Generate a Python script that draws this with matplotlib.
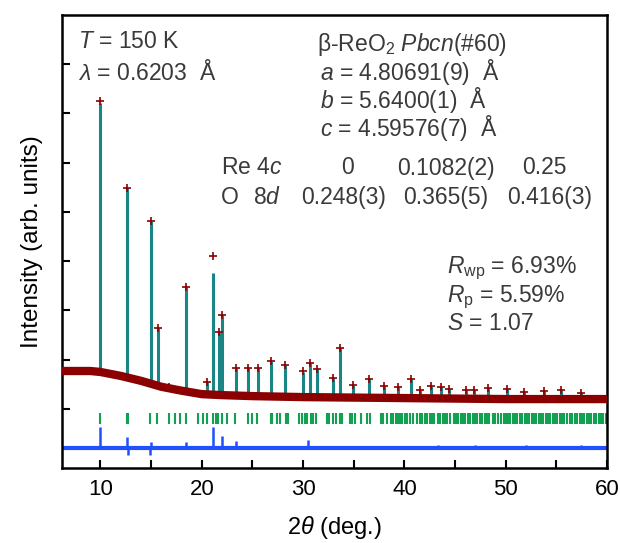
import numpy as np
import matplotlib.pyplot as plt

plt.rcParams['font.family'] = ['Liberation Sans', 'DejaVu Sans']
plt.rcParams['mathtext.fontset'] = 'custom'
plt.rcParams['mathtext.rm'] = 'Liberation Sans'
plt.rcParams['mathtext.it'] = 'Liberation Sans:italic'

# background of the observed pattern (2theta, intensity)
bg_x = [6.2, 9.0, 10.0, 12.0, 14.0, 16.0, 18.0, 20.0, 22.0, 25.0, 30.0, 40.0, 50.0, 60.0]
bg_y = [0.77, 0.77, 0.75, 0.67, 0.57, 0.45, 0.37, 0.30, 0.28, 0.26, 0.24, 0.22, 0.20, 0.20]

# Bragg peaks: position, calculated top, observed top
peak_pos = [9.93, 12.64, 14.97, 15.66, 16.74, 18.49, 20.54, 21.13, 21.67, 22.0,
            23.33, 24.61, 25.5, 26.79, 28.17, 30.02, 30.67, 31.33, 32.98, 33.63,
            34.95, 36.54, 37.97, 39.39, 40.61, 41.5, 42.59, 43.57, 44.36, 46.04,
            46.83, 48.21, 50.09, 51.77, 53.74, 55.42, 57.4]
peak_calc = [6.21, 4.48, 3.81, 1.64, 0.45, 2.47, 0.55, 2.76, 1.57, 1.91,
             0.83, 0.84, 0.84, 0.98, 0.90, 0.74, 0.93, 0.81, 0.63, 1.24,
             0.49, 0.61, 0.47, 0.45, 0.60, 0.39, 0.47, 0.45, 0.41, 0.39,
             0.39, 0.43, 0.41, 0.34, 0.37, 0.39, 0.32]
peak_obs = [6.25, 4.48, 3.81, 1.64, 0.45, 2.47, 0.55, 3.10, 1.57, 1.91,
            0.83, 0.84, 0.84, 0.98, 0.90, 0.76, 0.93, 0.81, 0.63, 1.24,
            0.49, 0.61, 0.47, 0.45, 0.60, 0.39, 0.47, 0.45, 0.41, 0.39,
            0.39, 0.43, 0.41, 0.34, 0.37, 0.39, 0.32]

# difference curve spikes
diff_base = -0.79
diff_pos = [9.93, 12.6, 12.7, 14.9, 15.0, 18.49, 21.13, 22.0, 23.33, 30.5, 43.3, 47.0, 52.0, 57.4]
diff_val = [-0.37, -0.57, -0.93, -0.93, -0.67, -0.67, -0.37, -0.55, -0.65, -0.63, -0.73, -0.74, -0.74, -0.74]

# Bragg reflection tick positions
bragg_pos = [9.93, 12.57, 12.74, 14.87, 15.60, 16.74, 17.31, 17.83, 18.49, 19.61,
             20.14, 20.54, 21.13, 21.36, 21.58, 22.02, 22.51, 23.23, 24.55, 24.98,
             25.47, 26.79, 26.95, 27.38, 27.68, 28.27, 28.47, 29.55, 29.92, 30.14,
             30.41, 30.74, 30.93, 31.23, 32.32, 32.51, 32.98, 33.21, 33.63, 33.87,
             34.62, 34.85, 35.08, 35.74, 36.33, 36.59, 37.65, 37.91, 38.31, 38.64,
             38.90, 39.13, 39.36, 39.6, 39.8, 40.1, 40.3, 40.6, 40.8, 41.2,
             41.5, 41.7, 42.0, 42.2, 42.5, 42.7, 42.9, 43.3, 43.5, 43.8,
             44.0, 44.2, 44.5, 44.9, 45.1, 45.3, 45.6, 45.8, 46.0, 46.3,
             46.5, 46.8, 47.0, 47.2, 47.5, 47.7, 48.0, 48.2, 48.4, 48.7,
             48.9, 49.2, 49.5, 49.8, 50.0, 50.2, 50.4, 50.7, 50.9, 51.1,
             51.4, 51.6, 51.9, 52.1, 52.3, 52.6, 52.8, 53.0, 53.3, 53.5,
             53.7, 54.0, 54.2, 54.4, 54.7, 54.9, 55.1, 55.4, 55.6, 55.8,
             56.1, 56.3, 56.5, 56.8, 57.0, 57.3, 57.5, 57.7, 58.0, 58.2,
             58.4, 58.7, 58.9, 59.2, 59.4, 59.6, 59.9]

obs_col = '#8b0000'
calc_col = '#1a8585'
tick_col = '#12a150'
diff_col = '#1f4fff'
txt_col = '#3a3a3a'

fig = plt.figure(figsize=(6.2, 5.43), dpi=100)
ax = fig.add_axes([62 / 620, 1 - 468 / 543, 545 / 620, 453 / 543])

base = np.interp(peak_pos, bg_x, bg_y)
ax.vlines(peak_pos, base - 0.05, peak_calc, color=calc_col, lw=2.2, zorder=2)
ax.plot(bg_x, bg_y, color=obs_col, lw=6, solid_capstyle='butt', zorder=3)
ax.plot(peak_pos, peak_obs, '+', color=obs_col, ms=6, mew=1.2, zorder=4)

ax.vlines(bragg_pos, -0.30, -0.08, color=tick_col, lw=1.5)

ax.axhline(diff_base, color=diff_col, lw=3)
ax.vlines(diff_pos, diff_base, diff_val, color=diff_col, lw=1.8)

ax.set_xlim(6.2, 60)
ax.set_ylim(-1.2, 8.0)
ax.set_xticks(np.arange(10, 61, 10))
ax.set_xticks(np.arange(15, 60, 10), minor=True)
ax.set_yticks(np.arange(0, 8))
ax.set_yticklabels([])
ax.tick_params(which='both', direction='in', length=6, width=1.5, labelsize=16, pad=8)
for s in ax.spines.values():
    s.set_linewidth(1.8)

ax.set_xlabel(r'2$\it{\theta}$ (deg.)', fontsize=17, labelpad=10)
ax.set_ylabel('Intensity (arb. units)', fontsize=17.5, labelpad=6)


def put(x, y, s, **kw):
    fig.text(x / 620, 1 - y / 543, s, fontsize=16.5, color=txt_col, va='center', **kw)


put(78, 42, r'$T$ = 150 K')
put(78, 72, r'$\lambda$ = 0.6203  Å')
put(317, 44, r'β-ReO$_2$ $Pbcn$(#60)')
put(320, 72, r'$a$ = 4.80691(9)  Å')
put(320, 100, r'$b$ = 5.6400(1)  Å')
put(320, 128, r'$c$ = 4.59576(7)  Å')

put(221, 168, r'Re 4$c$')
put(341, 168, '0')
put(397, 168, '0.1082(2)')
put(522, 168, '0.25')
put(221, 197, 'O')
put(253, 197, r'8$d$')
put(301, 197, '0.248(3)')
put(403, 197, '0.365(5)')
put(507, 197, '0.416(3)')

put(447, 268, r'$R_{\mathrm{wp}}$ = 6.93%')
put(447, 297, r'$R_{\mathrm{p}}$ = 5.59%')
put(447, 323, r'$S$ = 1.07')

fig.savefig('out.png', dpi=100)
